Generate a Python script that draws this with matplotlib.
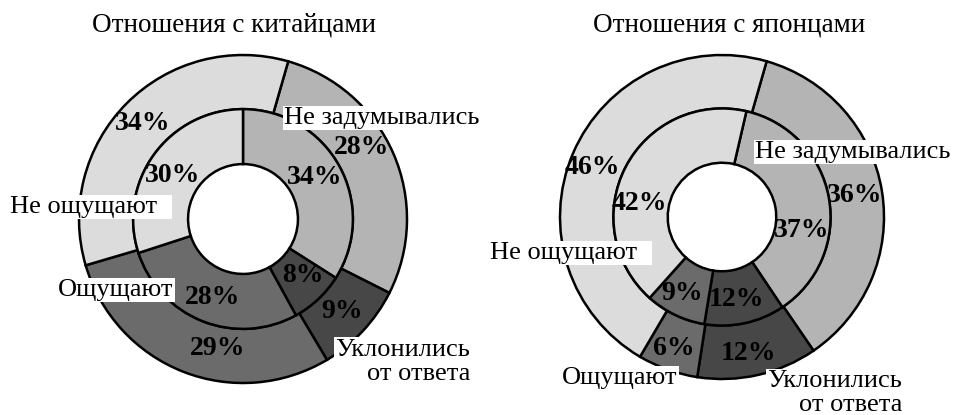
import matplotlib
matplotlib.use("Agg")
import matplotlib.pyplot as plt

W, H = 954, 415

categories = ["Не задумывались", "Уклонились\nот ответа", "Ощущают", "Не ощущают"]
colors = ["#b4b4b4", "#474747", "#6b6b6b", "#dcdcdc"]

china_inner = [34, 8, 28, 30]
china_outer = [28, 9, 29, 34]
japan_inner = [37, 12, 9, 42]
japan_outer = [36, 12, 6, 46]

titles = ["Отношения с китайцами", "Отношения с японцами"]

fig = plt.figure(figsize=(W / 100, H / 100), dpi=100)
ax = fig.add_axes([0, 0, 1, 1])

SERIF = ["Liberation Serif", "DejaVu Serif"]


def Y(y):
    return H - y


def donut(cx, cy, R, inner_vals, outer_vals, start_in, start_out):
    r_mid = R * 0.67
    r_hole = R * 0.335
    wp = dict(edgecolor="black", linewidth=1.8)
    ax.pie(outer_vals, colors=colors, radius=R, center=(cx, Y(cy)),
           startangle=start_out, counterclock=False,
           wedgeprops=dict(width=R - r_mid, **wp))
    ax.pie(inner_vals, colors=colors, radius=r_mid, center=(cx, Y(cy)),
           startangle=start_in, counterclock=False,
           wedgeprops=dict(width=r_mid - r_hole, **wp))


donut(243, 219, 164, china_inner, china_outer, 90, 74)
donut(722, 217, 162, japan_inner, japan_outer, 77, 74)

ax.set_xlim(0, W)
ax.set_ylim(0, H)
ax.set_aspect("auto")
ax.axis("off")

PCT = dict(fontsize=20, fontweight="bold", family=SERIF, ha="center", va="center")
LBL = dict(fontsize=19, family=SERIF, va="center",
           bbox=dict(facecolor="white", edgecolor="none", pad=1.0))

# titles
ax.text(234, Y(25), titles[0], fontsize=19.5, family=SERIF, ha="center", va="center")
ax.text(729, Y(25), titles[1], fontsize=19.5, family=SERIF, ha="center", va="center")

# left chart percentages
pct_left = [
    (china_outer[3], 143, 123), (china_inner[3], 173, 175),
    (china_outer[0], 362, 148), (china_inner[0], 315, 177),
    (china_inner[2], 213, 297), (china_inner[1], 303, 275),
    (china_outer[1], 342, 312), (china_outer[2], 218, 348),
]
for v, x, y in pct_left:
    ax.text(x, Y(y), f"{v}%", **PCT)

# right chart percentages
pct_right = [
    (japan_outer[3], 592, 167), (japan_inner[3], 639, 203),
    (japan_outer[0], 855, 195), (japan_inner[0], 802, 230),
    (japan_inner[2], 682, 293), (japan_inner[1], 737, 300),
    (japan_outer[2], 674, 348), (japan_outer[1], 749, 353),
]
for v, x, y in pct_right:
    ax.text(x, Y(y), f"{v}%", **PCT)

# left category labels
ax.text(284, Y(118), categories[0], ha="left", **LBL)
ax.text(10, Y(207), categories[3] + "  ", ha="left", **LBL)
ax.text(58, Y(290), categories[2], ha="left", **LBL)
ax.text(470, Y(362), categories[1], ha="right", multialignment="right",
        linespacing=1.15, **LBL)

# right category labels
ax.text(755, Y(152), categories[0], ha="left", **LBL)
ax.text(490, Y(253), categories[3] + "  ", ha="left", **LBL)
ax.text(562, Y(378), categories[2], ha="left", **LBL)
ax.text(902, Y(393), categories[1], ha="right", multialignment="right",
        linespacing=1.1, **LBL)

fig.savefig("out.png", dpi=100)
